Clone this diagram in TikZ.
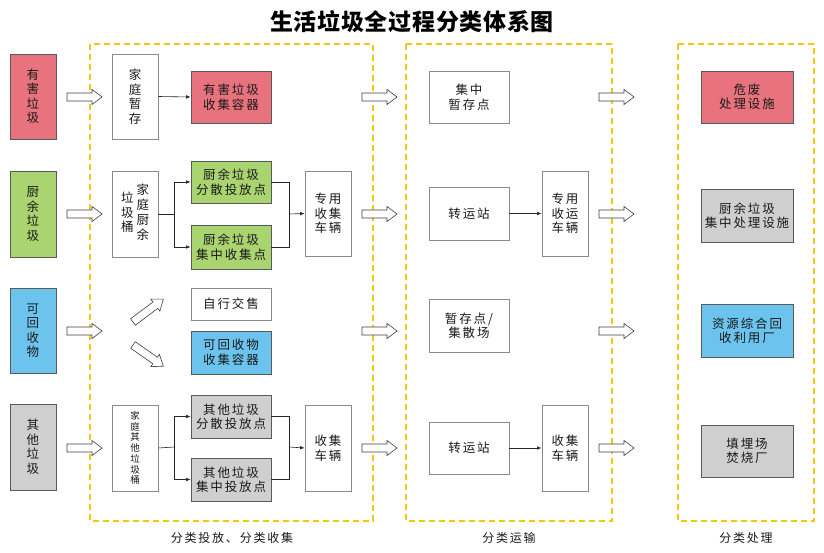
\documentclass[tikz,border=0pt]{standalone}
\usepackage{fontspec}
\setmainfont{Noto Sans CJK SC}[LetterSpace=15]
\newfontfamily\titlefont{Noto Sans CJK SC}[LetterSpace=3]
\usetikzlibrary{arrows.meta}
\definecolor{cpink}{HTML}{E8737F}
\definecolor{cgreen}{HTML}{A9D46F}
\definecolor{cblue}{HTML}{6CC4EE}
\definecolor{cgray}{HTML}{CFCFCF}
\definecolor{cyel}{HTML}{F2C811}
\definecolor{bline}{HTML}{8A8A8A}
\definecolor{dline}{HTML}{5A5A5A}
\definecolor{txt}{HTML}{1A1A1A}
\begin{document}
\begin{tikzpicture}[x=1pt,y=-1pt,
  box/.style={draw=bline, line width=0.8pt, fill=white, inner sep=0pt, align=center,
    font=\fontsize{12.5}{14.5}\selectfont, text=txt},
  cbox/.style={box, draw=dline},
  smallbox/.style={box, font=\fontsize{9.5}{10.7}\selectfont},
  conn/.style={draw=black!85, line width=0.6pt, -{Latex[length=4.5pt,width=3.6pt]}},
  line/.style={draw=black!85, line width=0.6pt},
  zone/.style={draw=cyel, line width=1.4pt, dash pattern=on 6pt off 4pt},
  hollow/.style={draw=black!75, line width=0.6pt, fill=white},
  lbl/.style={font=\fontsize{12}{14}\selectfont, text=txt},
  pics/harrow/.style={code={\draw[hollow] (0,-4) -- ({#1-10},-4) -- ({#1-10},-7.5) -- (#1,0) -- ({#1-10},7.5) -- ({#1-10},4) -- (0,4) -- cycle;}}
]
\useasboundingbox[fill=white] (0,0) rectangle (824,553);

% title
\node[font=\titlefont\bfseries\fontsize{23}{27}\selectfont] (title) at (412,22) {生活垃圾全过程分类体系图};

% zones
\draw[zone] (90,44) rectangle (373,521);
\draw[zone] (406,44) rectangle (612,521);
\draw[zone] (678,44) rectangle (814,521);
\node[lbl] (L1) at (232,538) {分类投放、分类收集};
\node[lbl] (L2) at (509,538) {分类运输};
\node[lbl] (L3) at (746,538) {分类处理};

% column A
\node[cbox, fill=cpink, minimum width=46, minimum height=85] (a1) at (33,96.5) {有\\害\\垃\\圾};
\node[cbox, fill=cgreen, minimum width=46, minimum height=86] (a2) at (33,214) {厨\\余\\垃\\圾};
\node[cbox, fill=cblue, minimum width=46, minimum height=85] (a3) at (33,330.5) {可\\回\\收\\物};
\node[cbox, fill=cgray, minimum width=46, minimum height=86] (a4) at (33,447) {其\\他\\垃\\圾};

% column B
\node[box, minimum width=46, minimum height=85] (b1) at (135,96.5) {家\\庭\\暂\\存};
\node[box, minimum width=46, minimum height=86] (b2) at (135,214)
  {\begin{tabular}{@{}c@{}}垃\\圾\\桶\end{tabular}\hspace{3pt}\begin{tabular}{@{}c@{}}家\\庭\\厨\\余\end{tabular}};
\node[smallbox, minimum width=46, minimum height=86] (b4) at (135,448) {家\\庭\\其\\他\\垃\\圾\\桶};

% column C
\node[cbox, fill=cpink, minimum width=80, minimum height=52] (c1) at (231,97) {有害垃圾\\收集容器};
\node[cbox, fill=cgreen, minimum width=80, minimum height=42] (g1) at (231,182) {厨余垃圾\\分散投放点};
\node[cbox, fill=cgreen, minimum width=80, minimum height=44] (g2) at (231,247) {厨余垃圾\\集中收集点};
\node[box, minimum width=80, minimum height=32] (c3a) at (231,304) {自行交售};
\node[cbox, fill=cblue, minimum width=80, minimum height=43] (c3b) at (231,352.5) {可回收物\\收集容器};
\node[cbox, fill=cgray, minimum width=80, minimum height=43] (o1) at (231,416.5) {其他垃圾\\分散投放点};
\node[cbox, fill=cgray, minimum width=80, minimum height=43] (o2) at (231,479.5) {其他垃圾\\集中投放点};

% column D
\node[box, minimum width=46, minimum height=85] (v2) at (328,213.5) {专用\\收集\\车辆};
\node[box, minimum width=46, minimum height=86] (v4) at (328,448) {收集\\车辆};

% column E
\node[box, minimum width=80, minimum height=52] (e1) at (469,97) {集中\\暂存点};
\node[box, minimum width=80, minimum height=53] (e2) at (469,213.5) {转运站};
\node[box, minimum width=80, minimum height=53] (e3) at (469,325.5) {暂存点/\\集散场};
\node[box, minimum width=80, minimum height=52] (e4) at (469,448) {转运站};

% column F
\node[box, minimum width=46, minimum height=85] (f2) at (565,213.5) {专用\\收运\\车辆};
\node[box, minimum width=46, minimum height=86] (f4) at (565,448) {收集\\车辆};

% column G
\node[cbox, fill=cpink, minimum width=92, minimum height=52] (h1) at (747,97) {危废\\处理设施};
\node[cbox, fill=cgray, minimum width=92, minimum height=53] (h2) at (747,215.5) {厨余垃圾\\集中处理设施};
\node[cbox, fill=cblue, minimum width=92, minimum height=53] (h3) at (747,330.5) {资源综合回\\收利用厂};
\node[cbox, fill=cgray, minimum width=92, minimum height=52] (h4) at (747,451) {填埋场\\焚烧厂};

% thin connectors
\draw[conn] (b1.east) -- (c1.west);
\coordinate (j2) at (174,214);
\coordinate (m2) at (289,214);
\draw[line] (b2.east) -- (j2);
\draw[conn] (j2) |- (g1.west);
\draw[conn] (j2) |- (g2.west);
\draw[line] (g1.east) -| (m2);
\draw[line] (g2.east) -| (m2);
\draw[conn] (m2) -- (v2.west);

\coordinate (j4) at (174,447);
\coordinate (m4) at (289,447);
\draw[line] (b4.east) -- (j4);
\draw[conn] (j4) |- (o1.west);
\draw[conn] (j4) |- (o2.west);
\draw[line] (o1.east) -| (m4);
\draw[line] (o2.east) -| (m4);
\draw[conn] (m4) -- (v4.west);

\draw[conn] (e2.east) -- (e2.east -| f2.west);
\draw[conn] (e4.east) -- (e4.east -| f4.west);

% hollow arrows
\foreach \yy in {97,214,331,448} {
  \pic at (67,\yy) {harrow=35};
  \pic at (362,\yy) {harrow=35};
  \pic at (599,\yy) {harrow=35};
}
\pic[rotate=37] at (133,322) {harrow=38};
\pic[rotate=-35] at (133,345) {harrow=37};
\end{tikzpicture}
\end{document}
